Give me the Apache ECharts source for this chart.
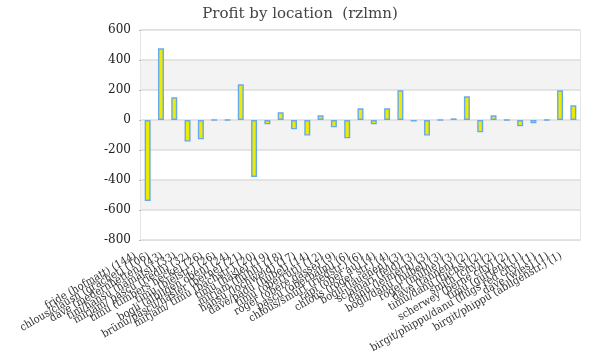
<!DOCTYPE html>
<html>
<head>
<meta charset="utf-8">
<script src="https://cdn.jsdelivr.net/npm/echarts@6/dist/echarts.min.js"></script>
<style>html,body{margin:0;padding:0;background:#fff}#c{width:600px;height:360px}</style>
</head>
<body>
<div id="c"></div>
<script>
const categories = [
  "fride (hofmatt) (144)",
  "chlous/clausn (grachet) (106)",
  "dave (medernhetten) (43)",
  "tini/hansu (hamatsi) (33)",
  "mirjam/ pascu (riedli) (32)",
  "timu (timbers hecke) (26)",
  "timu (bielstr.) (26)",
  "bogli (albligen oben) (24)",
  "brünu/päscu/häsler (berne) (21)",
  "mirjam/ timu (bachstr.) (20)",
  "timu (hasle) (19)",
  "mirjam (flühli) (18)",
  "hansu (lochweid) (17)",
  "dave/padu (hubel) (14)",
  "timu (oberrüti) (12)",
  "roger (obere gasse) (9)",
  "pascu (oberbalm) (6)",
  "chlous/smürt (riedstr.) (6)",
  "rapi (ober au) (4)",
  "chlous (roger str.) (4)",
  "bogli (lauenen) (3)",
  "sclamari (feld) (3)",
  "danu (leimern) (3)",
  "bogli/danu (hubel) (3)",
  "roger (mühle) (3)",
  "dave (tannen) (2)",
  "timu/danu (fuchs) (2)",
  "smith (city) (2)",
  "scherwey (berne city) (2)",
  "timu (gurten) (1)",
  "birgit/phippu/danu (flugs red city) (1)",
  "dave (wies) (1)",
  "birgit/phippu (abligenstr.) (1)"
];
const profit = [-540, 478, 151, -144, -129, 1, 1, 238, -380, -29, 51, -62, -104, 31, -49, -122, 78, -29, 78, 198, -10, -104, 1, 11, 158, -82, 31, 1, -42, -22, 1, 198, 98];
const yTicks = {min: -800, max: 600, interval: 200};

const chart = echarts.init(document.getElementById('c'), null, {renderer: 'canvas'});
chart.setOption({
  animation: false,
  backgroundColor: '#ffffff',
  title: {
    text: 'Profit by location  (rzlmn)',
    left: 'center',
    top: 2,
    textStyle: {fontFamily: 'DejaVu Serif', fontSize: 15, fontWeight: 'normal', color: '#444'}
  },
  grid: {left: 141, right: 20, top: 30, bottom: 120, show: true, borderColor: '#dddddd', borderWidth: 1.5, backgroundColor: 'transparent', containLabel: false, outerBoundsMode: 'none'},
  xAxis: {
    type: 'category',
    data: categories,
    axisLine: {show: false},
    axisTick: {show: false},
    axisLabel: {interval: 0, rotate: 30, margin: 8, padding: [0, 14, 0, 0], hideOverlap: false, fontFamily: '"DejaVu Serif Condensed", "DejaVu Serif"', fontSize: 11, color: '#333'}
  },
  yAxis: {
    type: 'value',
    min: yTicks.min, max: yTicks.max, interval: yTicks.interval,
    axisLine: {show: false},
    axisTick: {show: true, length: 2, lineStyle: {color: '#bbb'}},
    axisLabel: {margin: 10, fontFamily: 'DejaVu Serif', fontSize: 12, color: '#222'},
    splitLine: {show: true, lineStyle: {color: '#dddddd', width: 1.5}},
    splitArea: {show: true, areaStyle: {color: ['#ffffff', '#f3f3f3']}}
  },
  series: [{
    type: 'bar',
    data: profit,
    barWidth: 6,
    itemStyle: {color: '#eeea00', borderColor: '#66aaee', borderWidth: 1.4}
  }]
});
</script>
</body>
</html>
